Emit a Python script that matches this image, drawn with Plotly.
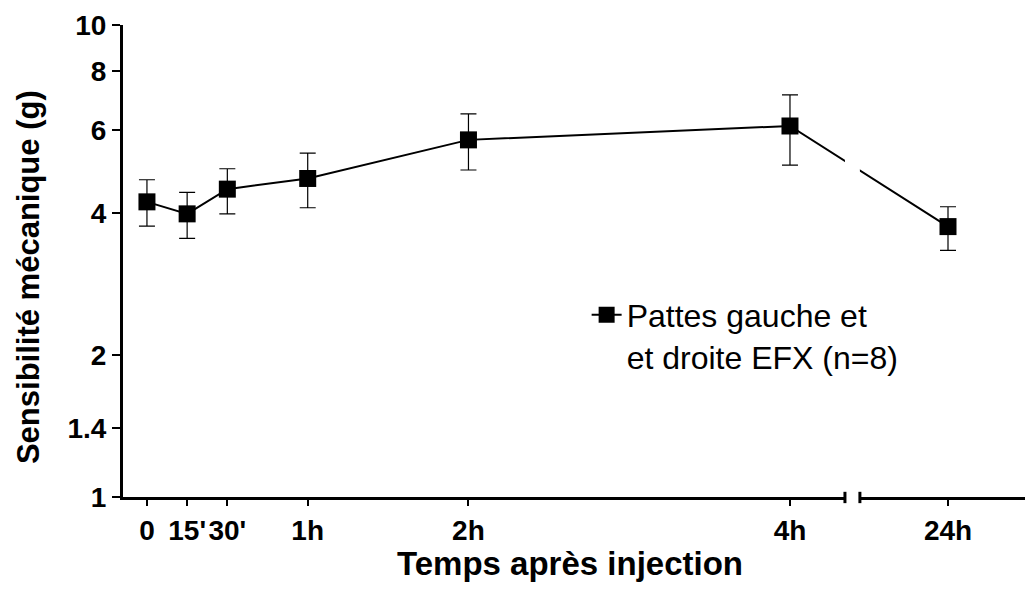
import plotly.graph_objects as go

# ---- data ----
time_labels = ["0", "15'", "30'", "1h", "2h", "4h", "24h"]
time_hours = [0, 0.25, 0.5, 1, 2, 4, 24]
mean_g = [4.22, 3.98, 4.49, 4.73, 5.71, 6.11, 3.74]
upper_g = [4.70, 4.42, 4.96, 5.35, 6.48, 7.11, 4.12]
lower_g = [3.75, 3.53, 3.98, 4.10, 4.93, 5.05, 3.33]
y_ticks = [1, 1.4, 2, 4, 6, 8, 10]

# broken x axis: hours up to 4h are linear; 24h is placed after the break
BREAK_START, BREAK_END, POS_24H = 4.342, 4.435, 4.983


def x_pos(h):
    return h if h <= 4 else POS_24H


xp = [x_pos(h) for h in time_hours]
err_plus = [u - m for u, m in zip(upper_g, mean_g)]
err_minus = [m - l for m, l in zip(mean_g, lower_g)]

FONT = "Liberation Sans, Arial, sans-serif"

fig = go.Figure()
fig.add_trace(go.Scatter(
    x=xp, y=mean_g, mode="lines+markers",
    name="Pattes gauche et<br>et droite EFX (n=8)",
    line=dict(color="black", width=2),
    marker=dict(symbol="square", size=17, color="black"),
    error_y=dict(type="data", symmetric=False, array=err_plus, arrayminus=err_minus,
                 color="black", thickness=1.2, width=8),
))

# axis break: white gap + small end marks
fig.add_shape(type="rect", xref="x", yref="paper", x0=BREAK_START, x1=BREAK_END,
              y0=-0.03, y1=1.0, fillcolor="white", line=dict(width=0), layer="above")
for xb in (BREAK_START, BREAK_END):
    fig.add_shape(type="line", xref="x", yref="paper", x0=xb, x1=xb,
                  y0=-0.013, y1=0.011, line=dict(color="black", width=3), layer="above")

fig.update_layout(
    width=1027, height=595,
    margin=dict(l=123, r=2, t=25, b=98),
    paper_bgcolor="white", plot_bgcolor="white",
    font=dict(family=FONT, color="black"),
    showlegend=True,
    legend=dict(x=0.514, y=0.444, xanchor="left", yanchor="top",
                font=dict(family=FONT, size=32, color="black"),
                bgcolor="rgba(0,0,0,0)", valign="top"),
    xaxis=dict(
        range=[-0.149, 5.462], showgrid=False, zeroline=False, automargin=False,
        showline=True, linecolor="black", linewidth=3,
        tickmode="array", tickvals=xp, ticktext=time_labels,
        ticks="outside", ticklen=6, tickwidth=2, tickcolor="black",
        tickfont=dict(family=FONT, size=28, color="black", weight="bold"),
        ticklabelstandoff=0,
    ),
    yaxis=dict(
        type="log", range=[0, 1], showgrid=False, zeroline=False, automargin=False,
        showline=True, linecolor="black", linewidth=3,
        tickmode="array", tickvals=y_ticks, ticktext=[str(t) for t in y_ticks],
        ticks="outside", ticklen=8, tickwidth=2, tickcolor="black",
        tickfont=dict(family=FONT, size=28, color="black", weight="bold"),
    ),
    annotations=[
        dict(text="<b>Temps après injection</b>", xref="paper", yref="paper",
             x=0.4956, y=-0.1419, xanchor="center", yanchor="middle", showarrow=False,
             font=dict(family=FONT, size=33, color="black")),
        dict(text="<b>Sensibilité mécanique (g)</b>", xref="paper", yref="paper",
             x=-0.1053, y=0.466, xanchor="center", yanchor="middle", showarrow=False,
             textangle=-90, font=dict(family=FONT, size=31, color="black")),
    ],
)

fig.write_html("out.html",
               config={"displayModeBar": False},
               post_script="document.body.style.margin='0';document.body.style.padding='0';")
